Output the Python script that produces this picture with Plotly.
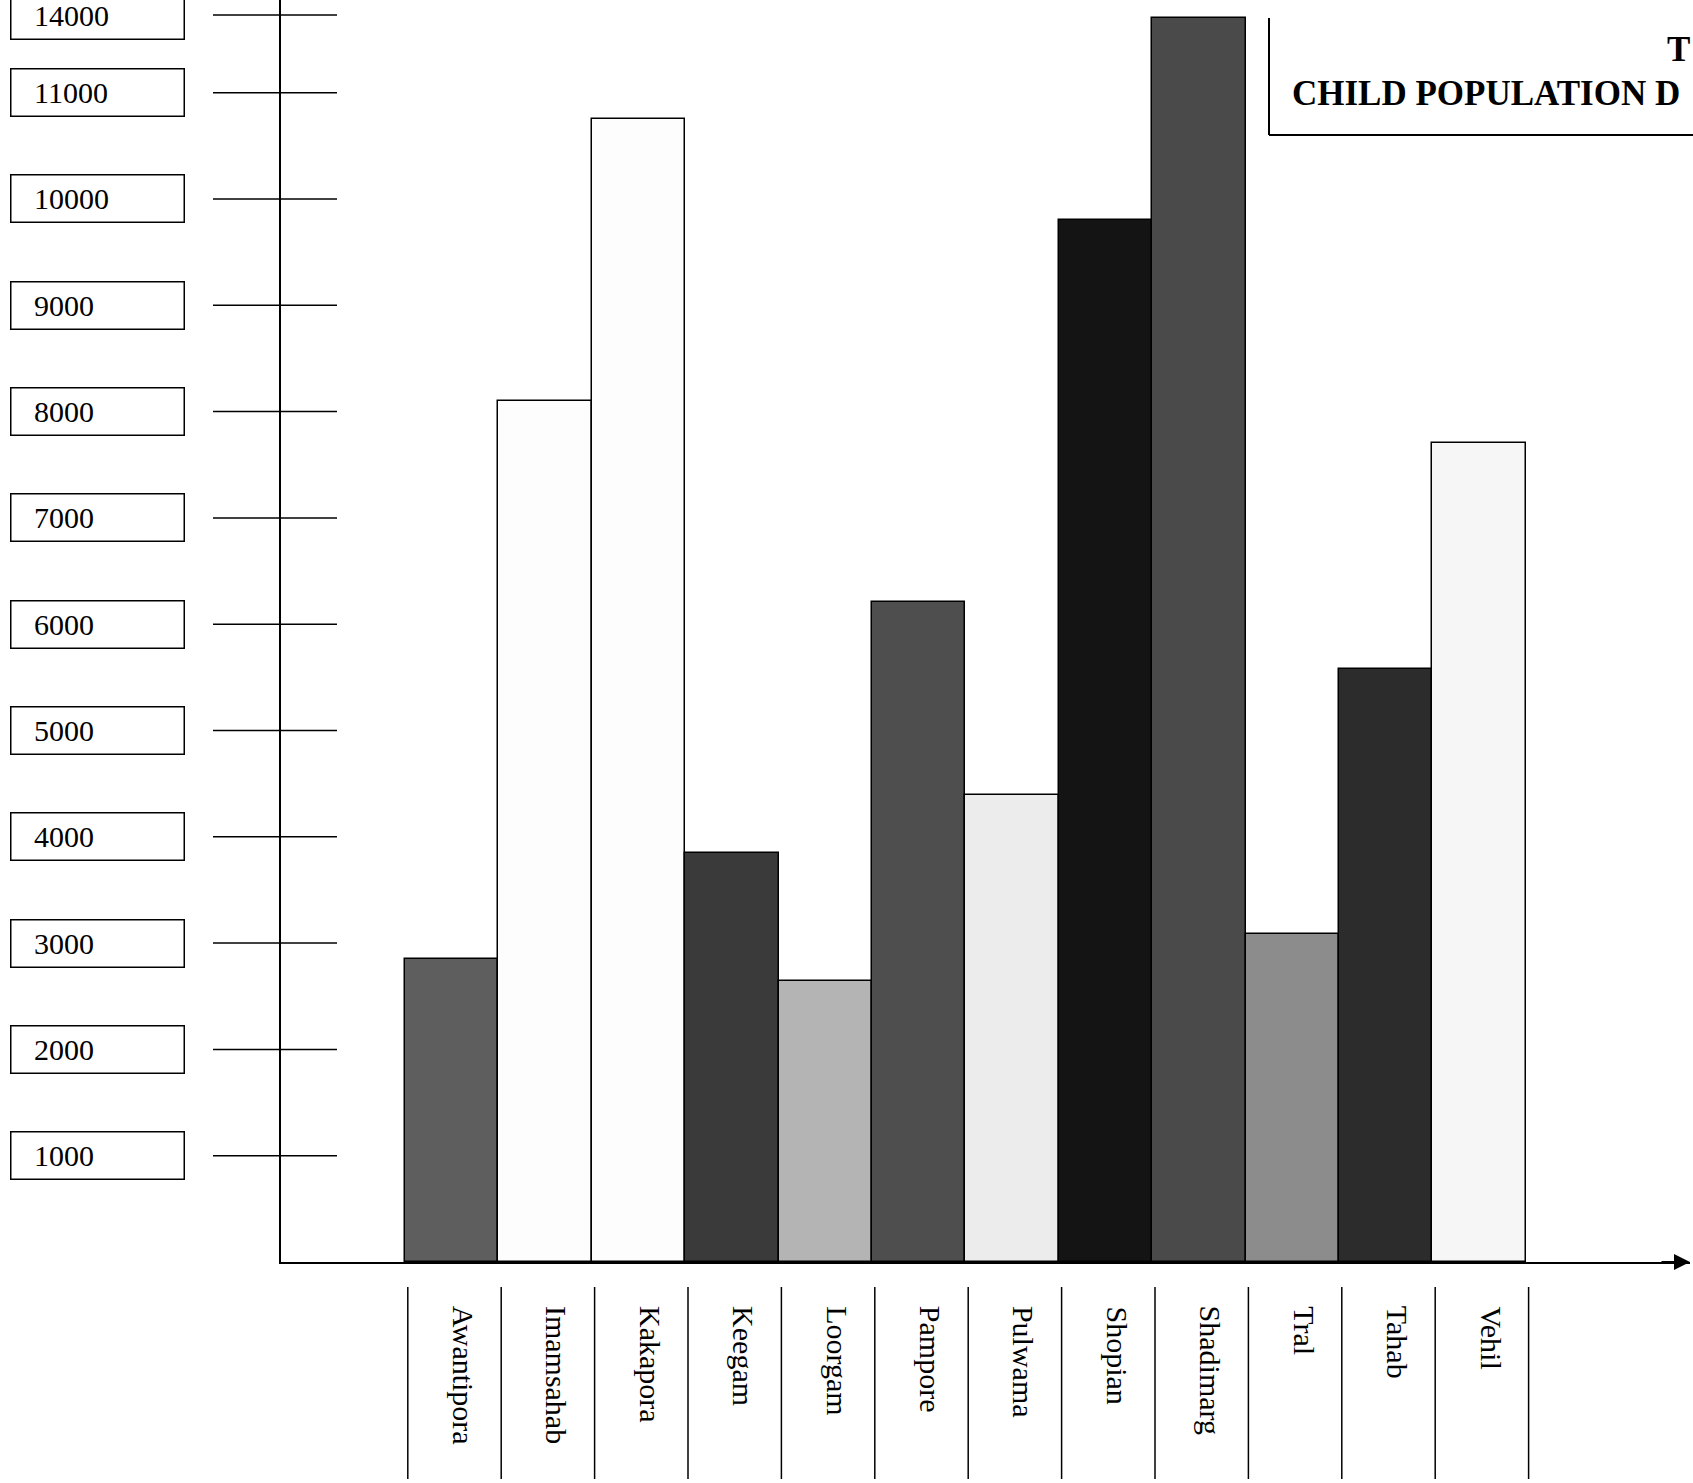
import plotly.graph_objects as go

# ---------------- data ----------------
CATEGORIES = ["Awantipora", "Imamsahab", "Kakapora", "Keegam", "Loorgam", "Pampore",
              "Pulwama", "Shopian", "Shadimarg", "Tral", "Tahab", "Vehil"]
CHILD_POPULATION = [2850, 8100, 10750, 3850, 2640, 6210, 4390, 9800, 11700, 3090, 5580, 7700]
BAR_SHADES = ["#5e5e5e", "#fdfdfd", "#fdfdfd", "#3a3a3a", "#b4b4b4", "#4e4e4e",
              "#ececec", "#141414", "#4a4a4a", "#8c8c8c", "#2c2c2c", "#f6f6f6"]
Y_TICK_VALUES = [1000, 2000, 3000, 4000, 5000, 6000, 7000, 8000, 9000, 10000, 11000, 11730]
Y_TICK_LABELS = ["1000", "2000", "3000", "4000", "5000", "6000", "7000", "8000", "9000",
                 "10000", "11000", "14000"]
# only the part of the title that is visible in the (cropped) original
TITLE_LINES = ["T", "CHILD POPULATION D"]

# ---------------- layout geometry ----------------
W, H = 1693, 1483
LEFT, RIGHT_EDGE = 281, 1690          # plot area in pixels
BASE_Y = 1262                          # pixel row of the zero line
BAR_PX = 93.4                          # pixel width of one category
FIRST_CENTER = 451.7                   # pixel centre of first bar
PX_PER_UNIT = 0.1063                   # pixels per person on y

plot_w = RIGHT_EDGE - LEFT
x_lo = (LEFT - FIRST_CENTER) / BAR_PX
x_hi = x_lo + plot_w / BAR_PX
y_hi = BASE_Y / PX_PER_UNIT

SERIF = "Liberation Serif, Times New Roman, serif"


def px_x(px):
    return (px - LEFT) / plot_w


def px_y(py):
    return (BASE_Y - py) / BASE_Y


fig = go.Figure()
fig.add_trace(go.Bar(
    x=list(range(len(CATEGORIES))), y=CHILD_POPULATION,
    marker=dict(color=BAR_SHADES, line=dict(color="black", width=1.5)),
    width=1.0, hoverinfo="y", showlegend=False,
))

shapes = []
annotations = []

# tick segments crossing the y axis, and boxed tick labels
for v, lab in zip(Y_TICK_VALUES, Y_TICK_LABELS):
    yp = v / y_hi
    shapes.append(dict(type="line", xref="paper", yref="paper",
                       x0=px_x(213), x1=px_x(337), y0=yp, y1=yp,
                       line=dict(color="black", width=1.5)))
    annotations.append(dict(
        xref="paper", yref="paper", x=px_x(10), y=yp, xanchor="left", yanchor="middle",
        text="\u00a0\u00a0\u00a0" + lab, showarrow=False, align="left",
        width=172, height=46, borderpad=0, bordercolor="black", borderwidth=1.5,
        bgcolor="white", font=dict(family=SERIF, size=30, color="black")))

# category labels (rotated) and separators below the axis
for i, cat in enumerate(CATEGORIES):
    annotations.append(dict(
        xref="x", yref="paper", x=i, y=px_y(1304), xanchor="center", yanchor="top",
        xshift=12, text=cat, textangle=90, showarrow=False,
        font=dict(family=SERIF, size=30, color="black")))
for i in range(len(CATEGORIES) + 1):
    shapes.append(dict(type="line", xref="x", yref="paper",
                       x0=i - 0.5 + 0.03, x1=i - 0.5 + 0.03,
                       y0=px_y(1287), y1=px_y(1479),
                       line=dict(color="black", width=1.5)))

# arrow at the end of the x axis
annotations.append(dict(xref="x", yref="y", x=x_hi, y=0, ax=-30, ay=0, text="",
                        showarrow=True, arrowhead=2, arrowsize=1.6, arrowwidth=2,
                        arrowcolor="black", standoff=0))

# title box (cut by the page edge)
shapes.append(dict(type="line", xref="paper", yref="paper",
                   x0=px_x(1269), x1=px_x(1269), y0=px_y(18), y1=px_y(135),
                   line=dict(color="black", width=2)))
shapes.append(dict(type="line", xref="paper", yref="paper",
                   x0=px_x(1269), x1=px_x(1720), y0=px_y(135), y1=px_y(135),
                   line=dict(color="black", width=2)))
annotations.append(dict(xref="paper", yref="paper", x=px_x(1665), y=px_y(49),
                        xanchor="left", yanchor="middle", text="<b>" + TITLE_LINES[0] + "</b>",
                        showarrow=False, font=dict(family=SERIF, size=35, color="black")))
annotations.append(dict(xref="paper", yref="paper", x=px_x(1290), y=px_y(94),
                        xanchor="left", yanchor="middle", text="<b>" + TITLE_LINES[1] + "</b>",
                        showarrow=False, font=dict(family=SERIF, size=35, color="black")))

fig.update_layout(
    width=W, height=H,
    margin=dict(l=LEFT, r=W - RIGHT_EDGE, t=0, b=H - BASE_Y, pad=0),
    paper_bgcolor="white", plot_bgcolor="white",
    bargap=0,
    xaxis=dict(range=[x_lo, x_hi], showticklabels=False, ticks="", showgrid=False,
               zeroline=False, showline=True, linecolor="black", linewidth=2),
    yaxis=dict(range=[0, y_hi], showticklabels=False, ticks="", showgrid=False,
               zeroline=False, showline=True, linecolor="black", linewidth=2),
    shapes=shapes, annotations=annotations,
)

fig.write_html("out.html", config={"displayModeBar": False},
               post_script="document.body.style.margin='0';")
